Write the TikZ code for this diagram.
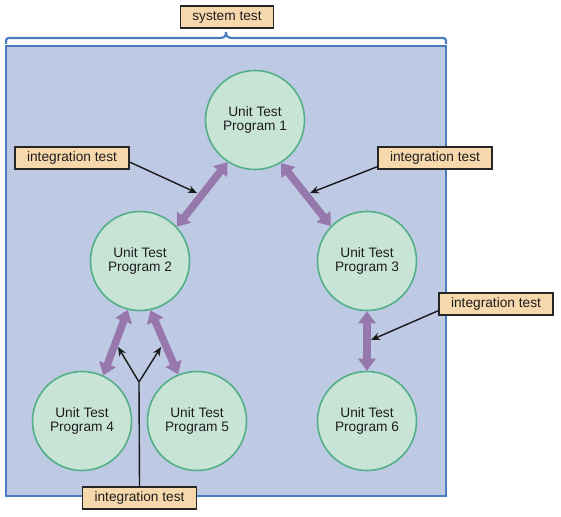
\documentclass[tikz,border=0pt]{standalone}
\usepackage{fontspec}
\setmainfont{Liberation Sans}
\usetikzlibrary{arrows.meta,calc}
\definecolor{bgblue}{RGB}{190,201,228}
\definecolor{edgeblue}{RGB}{74,125,190}
\definecolor{circfill}{RGB}{200,228,214}
\definecolor{circedge}{RGB}{82,175,135}
\definecolor{purp}{RGB}{150,120,172}
\definecolor{labfill}{RGB}{247,215,172}
\definecolor{txt}{RGB}{30,30,30}
\begin{document}
\begin{tikzpicture}[x=1pt,y=-1pt,
 unit/.style={circle,draw=circedge,fill=circfill,line width=1.6pt,minimum size=99pt,inner sep=0pt,align=center,text=txt,font=\fontsize{13.7}{14.5}\selectfont},
 lab/.style={draw=black!85,line width=1.3pt,fill=labfill,minimum height=22pt,inner xsep=12pt,inner ysep=0pt,text=txt,font=\fontsize{13.7}{15}\selectfont},
 link/.style={purp,line width=7.5pt,{Triangle[length=12pt,width=17pt]}-{Triangle[length=12pt,width=17pt]}},
 pointer/.style={black!90,line width=1.4pt,-{Stealth[length=9pt,width=7.5pt]}},
 plainline/.style={black!90,line width=1.4pt}
]
\useasboundingbox (0,0) rectangle (561,516);
% system boundary
\draw[edgeblue,line width=1.5pt,fill=bgblue] (6,46) rectangle (446,496);
% brace
\draw[edgeblue,line width=2.2pt] (6,44) .. controls (6,38) .. (12,38) -- (219,38)
  .. controls (225,38) and (226,36) .. (226,32)
  .. controls (226,36) and (227,38) .. (233,38) -- (440,38)
  .. controls (446,38) .. (446,44);
\node[lab] (sys) at (227,17) {system test};
% units
\node[unit] (p1) at (255,120) {Unit Test\\Program 1};
\node[unit] (p2) at (140,261) {Unit Test\\Program 2};
\node[unit] (p3) at (367,261) {Unit Test\\Program 3};
\node[unit] (p4) at (82,421) {Unit Test\\Program 4};
\node[unit] (p5) at (197,421) {Unit Test\\Program 5};
\node[unit] (p6) at (367,421) {Unit Test\\Program 6};
% links
\draw[link] (p1.237) -- (p2.43);
\draw[link] (p1.301) -- (p3.136);
\draw[link] (p2.256) -- (p4.65);
\draw[link] (p2.282) -- (p5.112);
\draw[link] (p3.270) -- (p6.90);
% labels
\node[lab] (l1) at (72,158) {integration test};
\node[lab] (l2) at (435,158) {integration test};
\node[lab] (l3) at (496,304) {integration test};
\node[lab] (l4) at (139.5,498) {integration test};
% pointers
\coordinate (t1) at (197,193);
\coordinate (t2) at (310,193);
\coordinate (t3) at (371,340);
\coordinate (fork) at (139,382);
\coordinate (t4a) at (118,347);
\coordinate (t4b) at (161,347);
\draw[pointer] ($(l1.east)+(0,4)$) -- (t1);
\draw[pointer] ($(l2.south west)+(0,-3)$) -- (t2);
\draw[pointer] ($(l3.south west)+(0,-5)$) -- (t3);
\draw[plainline] (l4.north) -- (fork);
\draw[pointer] (fork) -- (t4a);
\draw[pointer] (fork) -- (t4b);
\end{tikzpicture}
\end{document}
